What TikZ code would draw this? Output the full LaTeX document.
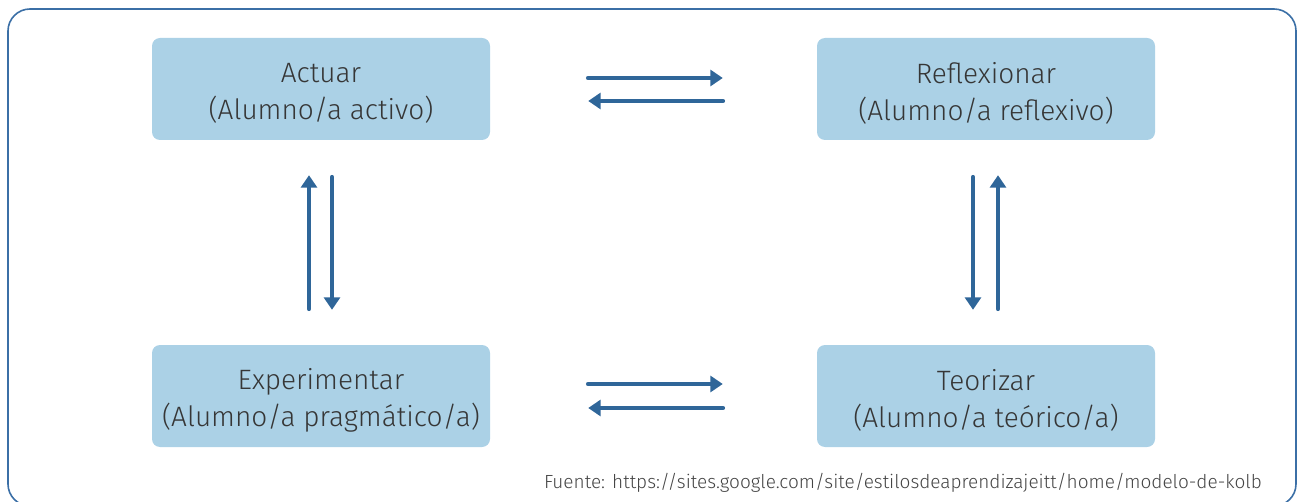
\documentclass[tikz,border=0pt]{standalone}
\usepackage{fontspec}
\setmainfont{Fira Sans Light}
\usetikzlibrary{arrows.meta,calc}
\definecolor{boxfill}{HTML}{ABD1E6}
\definecolor{boxtext}{HTML}{363636}
\definecolor{arrowblue}{HTML}{2F6699}
\definecolor{frameblue}{HTML}{3B6FA6}
\definecolor{notegray}{HTML}{444444}
\tikzset{
  stage/.style={fill=boxfill, draw=none, rounded corners=8pt,
    minimum width=338pt, minimum height=102pt, inner sep=0pt},
  stagetext/.style={align=center, text=boxtext, inner sep=0pt,
    font=\fontsize{28}{37}\selectfont, yshift=-4pt},
  flow/.style={draw=arrowblue, line width=4.6pt, line cap=round,
    -{Triangle[length=12.5pt,width=16pt]}},
}
\begin{document}
\begin{tikzpicture}[x=1pt,y=-1pt]
\useasboundingbox (0,0) rectangle (1297,502);
% outer frame
\draw[frameblue, line width=1.6pt, rounded corners=22pt] (8,9) rectangle (1296,506);

% the four stages
\node[stage, label={[stagetext]center:Actuar\\(Alumno/a activo)}] (act) at (321,89) {};
\node[stage, label={[stagetext]center:Reflexionar\\(Alumno/a reflexivo)}] (ref) at (986,89) {};
\node[stage, label={[stagetext]center:Experimentar\\(Alumno/a pragmático/a)}] (exp) at (321,396) {};
\node[stage, label={[stagetext]center:Teorizar\\(Alumno/a teórico/a)}] (teo) at (986,396) {};

% horizontal pairs
\draw[flow] ([xshift=98pt,yshift=11pt]act.east) -- ([xshift=-94pt,yshift=11pt]ref.west);
\draw[flow] ([xshift=-94pt,yshift=-12pt]ref.west) -- ([xshift=98pt,yshift=-12pt]act.east);
\draw[flow] ([xshift=98pt,yshift=12pt]exp.east) -- ([xshift=-94pt,yshift=12pt]teo.west);
\draw[flow] ([xshift=-94pt,yshift=-12pt]teo.west) -- ([xshift=98pt,yshift=-12pt]exp.east);

% vertical pairs
\draw[flow] ([xshift=-12pt,yshift=36pt]exp.north) -- ([xshift=-12pt,yshift=-35pt]act.south);
\draw[flow] ([xshift=11pt,yshift=-37pt]act.south) -- ([xshift=11pt,yshift=35pt]exp.north);
\draw[flow] ([xshift=-13pt,yshift=-37pt]ref.south) -- ([xshift=-13pt,yshift=35pt]teo.north);
\draw[flow] ([xshift=12pt,yshift=36pt]teo.north) -- ([xshift=12pt,yshift=-35pt]ref.south);

% source note
\node[anchor=base east, text=notegray, font=\fontsize{19}{22}\selectfont, inner sep=0pt]
  (src) at (1262,488) {Fuente: https://sites.google.com/site/estilosdeaprendizajeitt/home/modelo-de-kolb};
\end{tikzpicture}
\end{document}
